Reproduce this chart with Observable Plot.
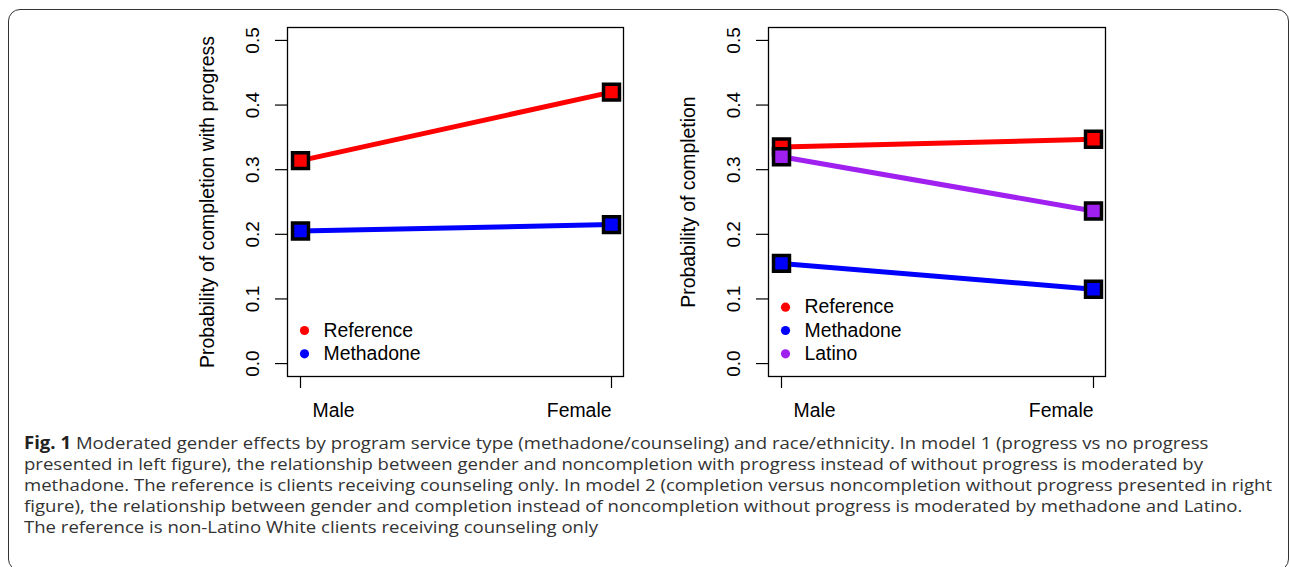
<!DOCTYPE html>
<html><head><meta charset="utf-8">
<script src="https://cdn.jsdelivr.net/npm/d3@7"></script>
<script src="https://cdn.jsdelivr.net/npm/@observablehq/plot@0.6"></script>
<style>
html,body{margin:0;padding:0;background:#fff;}
#wrap{position:relative;width:1290px;height:567px;overflow:hidden;background:#fff;}
#border{position:absolute;left:8px;top:9px;width:1281px;height:562px;border:1.5px solid #333;border-radius:12px;box-sizing:border-box;}
.panel{position:absolute;top:0;}
#caption{position:absolute;left:24px;top:431.5px;font-family:"Open Sans",sans-serif;font-size:17px;line-height:21px;color:#333;white-space:nowrap;transform-origin:0 0;}
#caption b{color:#222;}
</style></head>
<body>
<div id="wrap">
  <div id="border"></div>
  <div id="left" class="panel" style="left:0px"></div>
  <div id="right" class="panel" style="left:640px"></div>
  <div id="caption"></div>
</div>
<script>
const genders = ["Male", "Female"];
const yTicks = [0, 0.1, 0.2, 0.3, 0.4, 0.5];
const leftSeries = ["Reference", "Methadone"];
const leftReference = [0.314, 0.420];
const leftMethadone = [0.205, 0.215];
const rightSeries = ["Reference", "Methadone", "Latino"];
const rightReference = [0.335, 0.347];
const rightMethadone = [0.155, 0.115];
const rightLatino = [0.320, 0.236];
const leftTitle = "Probability of completion with progress";
const rightTitle = "Probability of completion";
const seriesColors = {Reference: "#FF0000", Methadone: "#0000FF", Latino: "#A020F0"};
const captionLines = [
  "<b>Fig. 1</b> Moderated gender effects by program service type (methadone/counseling) and race/ethnicity. In model 1 (progress vs no progress",
  "presented in left figure), the relationship between gender and noncompletion with progress instead of without progress is moderated by",
  "methadone. The reference is clients receiving counseling only. In model 2 (completion versus noncompletion without progress presented in right",
  "figure), the relationship between gender and completion instead of noncompletion without progress is moderated by methadone and Latino.",
  "The reference is non-Latino White clients receiving counseling only"
];

const FONT = "Liberation Sans, Arial, Helvetica, sans-serif";
const FS = 19.4;
const TFS = 19;

function panel({width, marginLeft, marginRight, series, values, title}) {
  const rows = series.flatMap((s, i) => genders.map((g, j) => ({series: s, gender: g, value: values[i][j]})));
  const n = series.length;
  const marks = [
    Plot.axisY(yTicks, {tickSize: 12, tickFormat: () => "", stroke: "#000", strokeWidth: 1.2}),
    Plot.text(yTicks, {y: d => d, text: d => d.toFixed(1), frameAnchor: "left", dx: -35, rotate: -90, textAnchor: "middle", lineAnchor: "middle", fontSize: TFS, fill: "#000"}),
    Plot.axisX(genders, {tickSize: 12, tickFormat: () => "", stroke: "#000", strokeWidth: 1.2}),
    Plot.text([genders[0]], {x: d => d, text: d => d, frameAnchor: "bottom", dy: 34, dx: 12, textAnchor: "start", lineAnchor: "middle", fontSize: FS, fill: "#000"}),
    Plot.text([genders[1]], {x: d => d, text: d => d, frameAnchor: "bottom", dy: 34, dx: 0, textAnchor: "end", lineAnchor: "middle", fontSize: FS, fill: "#000"}),
    Plot.text([title], {text: d => d, frameAnchor: "left", dx: -80, rotate: -90, textAnchor: "middle", lineAnchor: "middle", fontSize: FS, fill: "#000"})
  ];
  series.forEach(s => {
    const d = rows.filter(r => r.series === s);
    marks.push(Plot.line(d, {x: "gender", y: "value", stroke: seriesColors[s], strokeWidth: 5}));
    marks.push(Plot.dot(d, {x: "gender", y: "value", symbol: "square", r: 9, fill: seriesColors[s], stroke: "#000", strokeWidth: 3.5}));
  });
  series.forEach((s, k) => {
    const dy = -(22.7 + 23.3 * (n - 1 - k));
    marks.push(Plot.dot([s], {frameAnchor: "bottom-left", dx: 17, dy, r: 4.6, fill: seriesColors[s], stroke: "none"}));
    marks.push(Plot.text([s], {text: d => d, frameAnchor: "bottom-left", dx: 36, dy, textAnchor: "start", lineAnchor: "middle", fontSize: FS, fill: "#000"}));
  });
  marks.push(Plot.frame({stroke: "#000", strokeWidth: 1.3}));
  return Plot.plot({
    width, height: 420,
    marginLeft, marginRight, marginTop: 27, marginBottom: 44,
    style: {fontFamily: FONT, fontSize: FS + "px", background: "transparent", overflow: "visible"},
    x: {type: "point", domain: genders, padding: 0.04, label: null},
    y: {domain: [-0.02, 0.52], label: null},
    marks
  });
}

document.getElementById("left").appendChild(panel({
  width: 640, marginLeft: 287, marginRight: 17,
  series: leftSeries, values: [leftReference, leftMethadone], title: leftTitle
}));
document.getElementById("right").appendChild(panel({
  width: 650, marginLeft: 128, marginRight: 185,
  series: rightSeries, values: [rightReference, rightMethadone, rightLatino], title: rightTitle
}));

const cap = document.getElementById("caption");
cap.innerHTML = captionLines.map(l => `<div><span>${l}</span></div>`).join("");
const w3 = cap.querySelectorAll("span")[2].getBoundingClientRect().width;
cap.style.transform = `scaleX(${1248 / w3})`;
</script>
</body></html>
